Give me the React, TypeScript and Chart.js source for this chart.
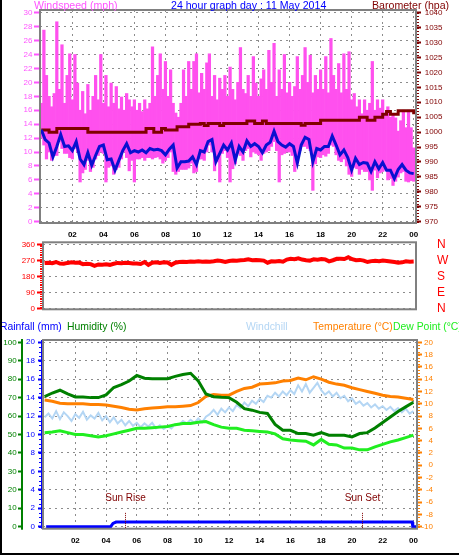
import React, { useEffect, useRef } from 'react';
import { Chart, registerables } from 'chart.js';

Chart.register(...registerables);

const FONT = '"Liberation Sans", Arial, Helvetica, sans-serif';
Chart.defaults.font.family = FONT;

// ---------- time axis ----------
const HOUR_TICKS = [2, 4, 6, 8, 10, 12, 14, 16, 18, 20, 22, 24];
const HOUR_LABELS = ['02', '04', '06', '08', '10', '12', '14', '16', '18', '20', '22', '00'];
const STEP_10MIN = 1 / 6;
const STEP_15MIN = 0.25;
const STEP_30MIN = 0.5;

// ---------- top panel: wind speed & barometer ----------
const WIND_TICKS = [0, 2, 4, 6, 8, 10, 12, 14, 16, 18, 20, 22, 24, 26, 28, 30];
const BARO_TICKS = [970, 975, 980, 985, 990, 995, 1000, 1005, 1010, 1015, 1020, 1025, 1030, 1035, 1040];

// gust (bar top) every 10 min
const WIND_GUST = [
  17, 27.5, 21, 18, 16.5, 18.4,
  28.7, 19, 25.4, 17, 21, 24.1,
  17.5, 24, 19.9, 16, 18.7, 15.5,
  19.7, 16, 18, 21, 17.5, 24,
  17, 21, 16.5, 19.9, 17, 19.4,
  16.2, 17.9, 16, 18.4, 17.5, 16.5,
  17.5, 16, 17, 15.8, 17.5, 16.2,
  17, 25.1, 18, 21, 24.1, 19,
  23, 18, 21.8, 17, 15.6, 15,
  17, 21.8, 18, 23, 19, 23,
  24.1, 18.5, 21.3, 19, 22.8, 24.1,
  18, 21, 17.5, 20.6, 19, 21,
  18, 22.2, 19, 17.5, 20, 25,
  19, 18.4, 21, 18, 23.7, 19.9,
  18, 20.5, 21.8, 19, 24.6, 20,
  25.6, 18, 21.8, 19, 24, 18.5,
  20, 18, 19.4, 23.7, 19, 21,
  25, 20, 23.9, 18.5, 21, 19,
  21.8, 19, 23.7, 18.5, 26.3, 21,
  19, 22.7, 18.5, 24.1, 19, 24.4,
  17.5, 18.4, 16.5, 17.5, 15.5, 17.5,
  16, 17, 23, 16, 17.5, 16.3,
  17.5, 15.4, 16.5, 15, 15.5, 14.9,
  13, 14.5, 16, 13.5, 16, 13.5,
  10.6,
];
// lull (bar bottom) every 10 min
const WIND_LULL = [
  12, 11, 9, 10, 8.8, 9.5,
  9.5, 11.5, 10.5, 9.8, 9.8, 9.2,
  9, 10.5, 10, 5.7, 7, 7.5,
  8.8, 7.2, 7.8, 9, 9.5, 10,
  9.8, 5.7, 7.8, 8, 6.8, 7.5,
  7.8, 9, 10, 9.2, 7.3, 8.8,
  5.7, 9, 9, 9.2, 8.8, 9.2,
  9.2, 9, 9.2, 9.3, 9, 8.4,
  8.8, 9.2, 10, 7.2, 6.8, 7.2,
  7.5, 7.5, 7.5, 7.7, 8.4, 7,
  7.2, 9, 9, 8.8, 10, 11,
  10, 7.3, 8.6, 5.7, 9.8, 10.2,
  9.2, 5.7, 7.6, 8.3, 9.8, 9.5,
  8.8, 10.2, 10.5, 9.3, 10, 9.8,
  9.6, 8.8, 9.8, 10, 10.2, 10.8,
  11.5, 10.2, 5.7, 9.6, 9.8, 10,
  10, 9.5, 7.2, 8.8, 10.2, 10.8,
  10.8, 10.5, 10.2, 4.5, 8.3, 9.3,
  9.2, 9.6, 9.4, 9.8, 11, 10.8,
  9.6, 8.8, 8.6, 9, 8, 6.8,
  6.5, 7.8, 7.6, 6.8, 7.5, 7.2,
  7.2, 6, 4.5, 7.4, 6.3, 7,
  7.2, 7.4, 6, 6.2, 5.2, 5.8,
  6.4, 7, 7.2, 5.8, 5.7, 5.9,
  5.8,
];
// average wind every 15 min
const WIND_AVG = [
  13.2, 11.8, 11.3, 9.3,
  10.8, 12.5, 10.8, 10.9,
  10.2, 11.5, 9.0, 8.2,
  9.9, 8.1, 9.5, 10.8,
  11.0, 8.9, 9.0, 7.4,
  8.8, 10.2, 11.2, 9.9,
  10.2, 10.0, 10.3, 9.9,
  10.5, 10.3, 10.4, 10.2,
  9.6, 10.4, 11.0, 7.7,
  8.6, 8.6, 8.7, 9.3,
  8.2, 10.2, 10.0, 11.5,
  11.8, 8.6, 9.8, 11.0,
  10.3, 11.3, 8.8, 10.8,
  10.0, 11.6, 10.8, 11.2,
  10.8, 9.9, 11.0, 11.4,
  13.0, 11.5, 11.0, 10.7,
  11.2, 10.8, 8.4, 11.0,
  12.1, 11.8, 8.6, 10.5,
  10.3, 10.8, 10.8, 12.3,
  11.0, 9.6, 10.3, 9.2,
  7.4, 9.1, 8.2, 8.5,
  8.4, 7.2, 8.6, 7.6,
  8.5, 7.4, 7.4, 6.2,
  7.5, 8.2, 7.4, 7.0,
  6.9,
];
// barometer every 15 min (hPa)
const BAROMETER = [
  1000.7, 1000.7, 1000.0, 1000.0,
  1001.2, 1001.2, 1001.2, 1001.2,
  1001.2, 1001.2, 1001.2, 1001.2,
  1000.0, 1000.0, 1000.0, 1000.0,
  1000.0, 1000.0, 1000.0, 1000.0,
  1000.0, 1000.0, 1000.0, 1000.0,
  1000.0, 1000.0, 1000.0, 1001.2,
  1001.2, 1000.0, 1000.0, 1001.2,
  1000.7, 1000.7, 1000.7, 1001.8,
  1001.8, 1001.8, 1002.6, 1002.6,
  1002.6, 1002.9, 1002.2, 1002.9,
  1002.9, 1002.9, 1002.2, 1002.9,
  1002.9, 1002.9, 1002.9, 1002.9,
  1002.9, 1003.7, 1003.7, 1002.9,
  1002.9, 1003.7, 1002.9, 1002.9,
  1002.9, 1002.9, 1002.9, 1002.9,
  1002.9, 1002.9, 1002.9, 1002.3,
  1002.9, 1002.9, 1002.9, 1002.9,
  1004.0, 1004.0, 1004.0, 1004.0,
  1004.0, 1004.0, 1004.0, 1004.0,
  1004.0, 1004.0, 1005.0, 1005.0,
  1004.0, 1004.0, 1005.0, 1005.0,
  1006.0, 1006.9, 1006.0, 1006.0,
  1007.2, 1007.2, 1007.2, 1007.2,
  1006.0,
];

// ---------- middle panel: wind direction ----------
const DIR_TICKS = [0, 90, 180, 270, 360];
const DIR_LABELS = ['N', 'E', 'S', 'W', 'N'];
const WIND_DIR = [
  256, 258, 255, 262,
  253, 252, 257, 260,
  258, 259, 250, 252,
  250, 240, 248, 247,
  249, 246, 252, 257,
  255, 258, 256, 253,
  254, 251, 262, 246,
  258, 260, 257, 261,
  259, 246, 258, 262,
  263, 262, 265, 264,
  266, 263, 265, 264,
  266, 270, 268, 262,
  268, 270, 269, 272,
  273, 277, 272, 274,
  272, 270, 258, 266,
  265, 268, 264, 276,
  280, 278, 283, 276,
  272, 270, 277, 275,
  279, 277, 266, 272,
  280, 281, 279, 289,
  278, 272, 274, 270,
  262, 267, 269, 266,
  270, 268, 265, 262,
  258, 260, 266, 264,
  265,
];

// ---------- bottom panel ----------
const HUM_TICKS = [0, 10, 20, 30, 40, 50, 60, 70, 80, 90, 100];
const RAIN_TICKS = [0, 2, 4, 6, 8, 10, 12, 14, 16, 18, 20];
const TEMP_TICKS = [-10, -8, -6, -4, -2, 0, 2, 4, 6, 8, 10, 12, 14, 16, 18, 20];

// every 30 min
const HUMIDITY = [
  70.5, 72.5, 74, 72,
  70.4, 70.4, 70, 70,
  71.5, 75.5, 77, 79,
  82, 80.5, 80.3, 80.3,
  80.3, 81.5, 82.5, 83.2,
  79, 72, 70.5, 70.2,
  70, 67.5, 64, 63.2,
  62, 61.4, 55.5, 52.3,
  52.3, 50.5, 50.5, 49.6,
  51, 49.6, 49.6, 49.6,
  48.7, 50.5, 51, 53.5,
  56.5, 59.5, 62.5, 65,
  67.5,
];
const TEMPERATURE = [
  10.6, 10.4, 10.1, 10.0,
  10.0, 10.0, 9.9, 9.9,
  9.8, 9.6, 9.4, 9.1,
  9.0, 9.2, 9.3, 9.4,
  9.5, 9.5, 9.6, 9.7,
  10.2, 11.2, 11.5, 11.4,
  11.4, 12.0, 12.5, 12.7,
  13.2, 13.3, 13.4, 13.7,
  13.8, 14.2, 13.9, 14.4,
  14.0, 13.5, 13.2, 13.0,
  12.6, 12.3, 12.0, 11.7,
  11.4, 11.2, 11.1, 10.9,
  10.7,
];
const DEW_POINT = [
  5.3, 5.4, 5.6, 5.3,
  5.0, 5.0, 4.8, 4.6,
  4.8, 5.1, 5.4, 5.7,
  6.0, 6.0, 6.1, 6.2,
  6.3, 6.6, 6.8, 6.8,
  7.0, 7.1, 6.6, 6.2,
  6.0, 6.0, 5.7, 5.6,
  5.5, 5.4, 5.1, 4.3,
  4.1, 4.0, 3.9, 3.3,
  4.2, 3.4, 3.3, 2.8,
  2.8, 2.5, 2.5, 3.0,
  3.4, 3.8, 4.1, 4.5,
  4.9,
];
// every 15 min
const WINDCHILL = [
  7.8, 8.4, 7.6, 8.8,
  7.5, 8.6, 8.0, 7.2,
  8.3, 7.7, 8.7, 7.4,
  8.1, 7.6, 8.5, 7.3,
  8.0, 7.0, 7.8, 6.8,
  7.4, 6.5, 7.2, 6.4,
  6.9, 6.2, 6.8, 6.3,
  6.9, 6.0, 6.5, 5.9,
  6.4, 6.0, 6.7, 6.6,
  7.2, 6.8, 7.4, 6.9,
  7.6, 7.0, 7.9, 8.3,
  9.0, 8.2, 9.2, 8.6,
  9.4, 8.8, 9.8, 9.3,
  10.2, 9.6, 10.5, 10.0,
  10.8, 10.3, 11.3, 11.0,
  11.8, 11.2, 12.0, 11.4,
  12.2, 11.6, 13.0, 12.0,
  13.2, 11.8, 12.6, 13.4,
  12.2, 11.5, 12.0, 11.2,
  11.8, 10.9, 11.3, 10.4,
  10.9, 10.0, 10.4, 9.7,
  10.1, 9.4, 9.9, 9.2,
  9.6, 9.0, 9.5, 8.8,
  9.3, 8.6, 9.2, 8.4,
  8.8,
];
const RAIN_HOURS = [0.1, 4.3, 4.45, 4.65, 23.92, 23.96, 24.3];
const RAIN_MM = [0, 0, 0.35, 0.5, 0.5, 0, 0];
const SUN_EVENTS = [
  { label: 'Sun Rise', hour: 5.25 },
  { label: 'Sun Set', hour: 20.67 },
];

// ---------- styles ----------
const GRID = '#8c8c8c';
const DOTS = [2, 4];
const PINK_BAR = '#ff50ee';
const PINK_TXT = '#ff55ff';
const WIND_BLUE = '#0a10d0';
const BARO_RED = '#800000';
const DIR_RED = '#ff0000';
const HUM_GREEN = '#008000';
const DEW_GREEN = '#20ee20';
const TEMP_ORANGE = '#ff8000';
const CHILL_BLUE = '#b4d6f4';
const RAIN_BLUE = '#0000ff';

// ---------- helpers ----------
const series = (vals: number[], step: number) => vals.map((v, i) => ({ x: i * step, y: v }));
const fixedTicks = (vals: number[]) => (axis: any) => {
  axis.ticks = vals.map((value) => ({ value }));
};
const tickText = (vals: number[], labels: string[]) => (v: any) => {
  const i = vals.indexOf(Number(v));
  return i < 0 ? '' : labels[i];
};
const plain = (v: any) => String(v);
const setWidth = (w: number) => (s: any) => {
  s.width = w;
};
const setHeight = (h: number) => (s: any) => {
  s.height = h;
};
const baseOptions = {
  responsive: false,
  animation: false,
  devicePixelRatio: 1,
  plugins: { legend: { display: false }, tooltip: { enabled: false } },
  events: [],
};
const frame = {
  id: 'frame',
  afterDatasetsDraw(chart: any) {
    const { ctx, chartArea: a } = chart;
    ctx.save();
    ctx.strokeStyle = '#808080';
    ctx.lineWidth = 2;
    ctx.strokeRect(a.left, a.top, a.right - a.left, a.bottom - a.top);
    ctx.restore();
  },
};
const minorTicks = (ctx: any, scale: any, from: number, to: number, step: number, x: number, w: number, color: string) => {
  ctx.fillStyle = color;
  for (let v = from; v <= to + 1e-9; v += step) {
    ctx.fillRect(x, Math.round(scale.getPixelForValue(v)), w, 1);
  }
};

function topConfig() {
  return {
    type: 'bar',
    data: {
      datasets: [
        {
          type: 'line',
          data: series(WIND_AVG, STEP_15MIN),
          borderColor: WIND_BLUE,
          borderWidth: 3,
          pointRadius: 0,
          yAxisID: 'y',
          order: 0,
        },
        {
          type: 'line',
          data: series(BAROMETER, STEP_15MIN),
          borderColor: BARO_RED,
          borderWidth: 3,
          pointRadius: 0,
          stepped: true,
          yAxisID: 'y1',
          order: 1,
        },
        {
          type: 'bar',
          data: WIND_GUST.map((g, i) => ({ x: i * STEP_10MIN, y: [WIND_LULL[i], g] })),
          backgroundColor: PINK_BAR,
          barPercentage: 1,
          categoryPercentage: 1,
          yAxisID: 'y',
          order: 2,
        },
      ],
    },
    options: {
      ...baseOptions,
      layout: { padding: { top: 10, left: 0, right: 0, bottom: 0 }, autoPadding: false },
      scales: {
        x: {
          type: 'linear',
          min: -0.084,
          max: 24.148,
          offset: false,
          afterBuildTicks: fixedTicks(HOUR_TICKS),
          afterFit: setHeight(18),
          ticks: {
            callback: tickText(HOUR_TICKS, HOUR_LABELS),
            color: '#000',
            font: { size: 8, weight: 'bold' },
            padding: 7,
            maxRotation: 0,
            autoSkip: false,
          },
          grid: { color: GRID, drawTicks: false, offset: false },
          border: { display: false, dash: DOTS },
        },
        y: {
          type: 'linear',
          position: 'left',
          min: -0.1866,
          max: 30.388,
          afterBuildTicks: fixedTicks(WIND_TICKS),
          afterFit: setWidth(40),
          ticks: { color: PINK_TXT, font: { size: 8 }, padding: 1.5, autoSkip: false, callback: plain },
          grid: { color: GRID, tickColor: PINK_TXT, tickLength: 6, tickWidth: 2 },
          border: { display: false, dash: DOTS },
        },
        y1: {
          type: 'linear',
          position: 'right',
          min: 969.565,
          max: 1040.905,
          afterBuildTicks: fixedTicks(BARO_TICKS),
          afterFit: setWidth(43),
          ticks: { color: BARO_RED, font: { size: 8 }, padding: 3.7, autoSkip: false, callback: plain },
          grid: { drawOnChartArea: false, tickColor: BARO_RED, tickLength: 5, tickWidth: 2 },
          border: { display: false },
        },
      },
    },
    plugins: [
      frame,
      {
        id: 'topDecor',
        afterDraw(chart: any) {
          const { ctx, chartArea: a, scales } = chart;
          ctx.save();
          minorTicks(ctx, scales.y1, 970, 1040, 1, a.right + 1, 2, BARO_RED);
          ctx.font = `10.6px ${FONT}`;
          ctx.textAlign = 'left';
          ctx.textBaseline = 'alphabetic';
          ctx.fillStyle = PINK_TXT;
          ctx.fillText('Windspeed (mph)', 34, 9);
          ctx.fillStyle = '#0000ff';
          ctx.fillText('24 hour graph day : 11 May 2014', 171, 9);
          ctx.fillStyle = BARO_RED;
          ctx.fillText('Barometer (hpa)', 372, 9);
          ctx.restore();
        },
      },
    ],
  };
}

function midConfig() {
  return {
    type: 'line',
    data: {
      datasets: [
        {
          data: series(WIND_DIR, STEP_15MIN),
          borderColor: DIR_RED,
          borderWidth: 4,
          pointRadius: 0,
          yAxisID: 'y',
        },
      ],
    },
    options: {
      ...baseOptions,
      layout: { padding: { top: 10.3, bottom: 8.7, left: 0, right: 43 }, autoPadding: false },
      scales: {
        x: { type: 'linear', display: false, min: -0.1, max: 24.15 },
        y: {
          type: 'linear',
          position: 'left',
          min: -5.66,
          max: 373.58,
          afterBuildTicks: fixedTicks(DIR_TICKS),
          afterFit: setWidth(43),
          ticks: { color: DIR_RED, font: { size: 8 }, padding: 2, autoSkip: false, callback: plain },
          grid: { color: GRID, tickColor: DIR_RED, tickLength: 6, tickWidth: 2 },
          border: { display: false, dash: DOTS },
        },
      },
    },
    plugins: [
      frame,
      {
        id: 'midDecor',
        afterDraw(chart: any) {
          const { ctx, chartArea: a, scales } = chart;
          ctx.save();
          minorTicks(ctx, scales.y, 0, 360, 10, a.left - 3, 2, DIR_RED);
          ctx.font = `12px ${FONT}`;
          ctx.textAlign = 'left';
          ctx.textBaseline = 'middle';
          ctx.fillStyle = DIR_RED;
          DIR_TICKS.forEach((v, i) => {
            ctx.fillText(DIR_LABELS[i], a.right + 21, scales.y.getPixelForValue(v));
          });
          ctx.restore();
        },
      },
    ],
  };
}

function botConfig() {
  return {
    type: 'line',
    data: {
      datasets: [
        {
          data: RAIN_HOURS.map((h, i) => ({ x: h, y: RAIN_MM[i] })),
          borderColor: RAIN_BLUE,
          borderWidth: 3,
          pointRadius: 0,
          yAxisID: 'yR',
          order: 0,
        },
        {
          data: series(DEW_POINT, STEP_30MIN),
          borderColor: DEW_GREEN,
          borderWidth: 3,
          pointRadius: 0,
          yAxisID: 'yT',
          order: 1,
        },
        {
          data: series(HUMIDITY, STEP_30MIN),
          borderColor: HUM_GREEN,
          borderWidth: 3,
          pointRadius: 0,
          yAxisID: 'yH',
          order: 2,
        },
        {
          data: series(TEMPERATURE, STEP_30MIN),
          borderColor: TEMP_ORANGE,
          borderWidth: 3,
          pointRadius: 0,
          yAxisID: 'yT',
          order: 3,
        },
        {
          data: series(WINDCHILL, STEP_15MIN),
          borderColor: CHILL_BLUE,
          borderWidth: 2,
          pointRadius: 0,
          yAxisID: 'yT',
          order: 4,
        },
      ],
    },
    options: {
      ...baseOptions,
      layout: { padding: { top: 22, right: 26, left: 0, bottom: 0 }, autoPadding: false },
      scales: {
        x: {
          type: 'linear',
          min: -0.104,
          max: 24.234,
          afterBuildTicks: fixedTicks(HOUR_TICKS),
          afterFit: setHeight(26.3),
          ticks: {
            callback: tickText(HOUR_TICKS, HOUR_LABELS),
            color: '#000',
            font: { size: 8, weight: 'bold' },
            padding: 7,
            maxRotation: 0,
            autoSkip: false,
          },
          grid: { color: GRID, drawTicks: false },
          border: { display: false, dash: DOTS },
        },
        yR: {
          type: 'linear',
          axis: 'y',
          position: 'left',
          weight: 0,
          min: -0.2167,
          max: 20.249,
          afterBuildTicks: fixedTicks(RAIN_TICKS),
          afterFit: setWidth(20),
          ticks: { color: RAIN_BLUE, font: { size: 8 }, padding: 3, autoSkip: false, callback: plain },
          grid: { drawOnChartArea: false, tickColor: RAIN_BLUE, tickLength: 5, tickWidth: 2 },
          border: { display: false },
        },
        yH: {
          type: 'linear',
          axis: 'y',
          position: 'left',
          weight: 1,
          min: -1.083,
          max: 101.247,
          afterBuildTicks: fixedTicks(HUM_TICKS),
          afterFit: setWidth(23),
          ticks: { color: HUM_GREEN, font: { size: 8 }, padding: 1.3, autoSkip: false, callback: plain },
          grid: { color: GRID, tickColor: HUM_GREEN, tickLength: 5, tickWidth: 2 },
          border: { display: false, dash: DOTS },
        },
        yT: {
          type: 'linear',
          axis: 'y',
          position: 'right',
          min: -10.325,
          max: 20.374,
          afterBuildTicks: fixedTicks(TEMP_TICKS),
          afterFit: setWidth(16),
          ticks: {
            color: TEMP_ORANGE,
            font: { size: 8 },
            padding: 0,
            crossAlign: 'far',
            autoSkip: false,
            callback: plain,
          },
          grid: { drawOnChartArea: false, tickColor: TEMP_ORANGE, tickLength: 5, tickWidth: 2 },
          border: { display: false },
        },
      },
    },
    plugins: [
      frame,
      {
        id: 'botDecor',
        afterDatasetsDraw(chart: any) {
          const { ctx, chartArea: a, scales } = chart;
          ctx.save();
          ctx.font = `10px ${FONT}`;
          ctx.textAlign = 'center';
          ctx.textBaseline = 'middle';
          SUN_EVENTS.forEach((e) => {
            const px = Math.round(scales.x.getPixelForValue(e.hour)) + 0.5;
            ctx.strokeStyle = BARO_RED;
            ctx.lineWidth = 1;
            ctx.setLineDash([1, 1]);
            ctx.beginPath();
            ctx.moveTo(px, scales.yR.getPixelForValue(1.5));
            ctx.lineTo(px, a.bottom);
            ctx.stroke();
            ctx.fillStyle = BARO_RED;
            ctx.fillText(e.label, px, scales.yR.getPixelForValue(3.1));
          });
          ctx.restore();
        },
        afterDraw(chart: any) {
          const { ctx, chartArea: a, scales } = chart;
          ctx.save();
          ctx.fillStyle = HUM_GREEN;
          ctx.fillRect(scales.yH.right - 2, a.top - 1, 2, a.bottom - a.top + 2);
          ctx.fillStyle = RAIN_BLUE;
          ctx.fillRect(a.left - 2, a.top, 1, a.bottom - a.top);
          minorTicks(ctx, scales.yR, 0, 20, 0.5, a.left - 4, 2, RAIN_BLUE);
          minorTicks(ctx, scales.yT, -10, 20, 0.5, a.right + 1, 2, TEMP_ORANGE);
          ctx.font = `10.4px ${FONT}`;
          ctx.textAlign = 'left';
          ctx.textBaseline = 'alphabetic';
          const titles = [
            { t: 'Rainfall (mm)', c: RAIN_BLUE, x: 0 },
            { t: 'Humidity (%)', c: HUM_GREEN, x: 67 },
            { t: 'Windchill', c: CHILL_BLUE, x: 246 },
            { t: 'Temperature (°C)', c: TEMP_ORANGE, x: 313 },
            { t: 'Dew Point (°C)', c: DEW_GREEN, x: 393 },
          ];
          titles.forEach((o) => {
            ctx.fillStyle = o.c;
            ctx.fillText(o.t, o.x, 11.7);
          });
          ctx.restore();
        },
      },
    ],
  };
}

export default function App() {
  const topRef = useRef<HTMLCanvasElement>(null);
  const midRef = useRef<HTMLCanvasElement>(null);
  const botRef = useRef<HTMLCanvasElement>(null);

  useEffect(() => {
    const charts = [
      new Chart(topRef.current as HTMLCanvasElement, topConfig() as any),
      new Chart(midRef.current as HTMLCanvasElement, midConfig() as any),
      new Chart(botRef.current as HTMLCanvasElement, botConfig() as any),
    ];
    return () => charts.forEach((c) => c.destroy());
  }, []);

  return (
    <div
      style={{
        position: 'absolute',
        left: 0,
        top: 0,
        width: 459,
        height: 555,
        background: '#ffffff',
        overflow: 'hidden',
      }}
    >
      <canvas ref={topRef} width={459} height={241} style={{ position: 'absolute', left: 0, top: 0 }} />
      <canvas ref={midRef} width={459} height={86} style={{ position: 'absolute', left: 0, top: 232 }} />
      <canvas ref={botRef} width={459} height={237} style={{ position: 'absolute', left: 0, top: 318 }} />
      <div style={{ position: 'absolute', left: 0, top: 0, width: 2, height: 555, background: '#000' }} />
      <div style={{ position: 'absolute', left: 0, top: 553, width: 459, height: 2, background: '#000' }} />
    </div>
  );
}
